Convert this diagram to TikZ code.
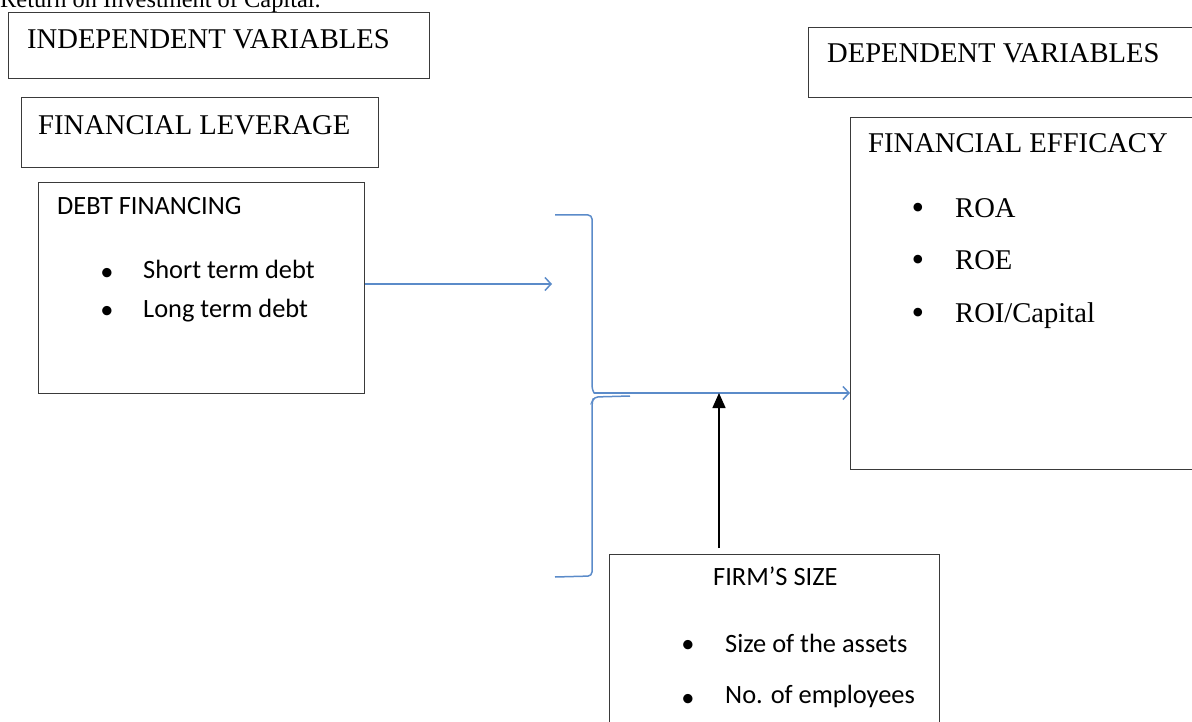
\documentclass[tikz,border=0pt]{standalone}
\usepackage{fontspec}
\setmainfont{Liberation Serif}
\newfontfamily\calibri{Carlito}
\usetikzlibrary{arrows.meta,calc}
\definecolor{boxgray}{HTML}{3A3A3A}
\definecolor{wordblue}{HTML}{5B8BC9}
\begin{document}
\begin{tikzpicture}[x=1pt,y=-1pt,
  box/.style={draw=boxgray, line width=1.2pt, inner sep=0pt, anchor=north west},
  sertext/.style={anchor=base west, inner sep=0pt, font=\fontsize{28.6}{34}\selectfont},
  serbullet/.style={anchor=base, inner sep=0pt, font=\fontsize{36}{40}\selectfont},
  santext/.style={anchor=base west, inner sep=0pt, font=\calibri\fontsize{26.4}{31}\selectfont},
  sanbullet/.style={anchor=base, inner sep=0pt, font=\calibri\fontsize{26.4}{31}\selectfont},
  blueline/.style={draw=wordblue, line width=1.5pt},
  bluearrow/.style={blueline, -{Straight Barb[length=6pt,width=13pt,line width=1.5pt]}},
  blackarrow/.style={draw=black, line width=1.5pt, -{Triangle[length=15pt,width=13pt]}}
]
\useasboundingbox (0,0) rectangle (1192,722);
\clip (0,0) rectangle (1192,722);

% cut-off caption line
\node[anchor=base west, inner sep=0pt, font=\fontsize{24.4}{29}\selectfont] (cap) at (0,8) {Return on Investment of Capital.};

% boxes
\node[box, minimum width=421pt, minimum height=66pt] (indep) at (8,12) {};
\node[box, minimum width=357pt, minimum height=70pt] (lev) at (21,97) {};
\node[box, minimum width=326pt, minimum height=211pt] (debt) at (38,182) {};
\node[box, minimum width=420pt, minimum height=70pt] (dep) at (808,27) {};
\node[box, minimum width=400pt, minimum height=352pt] (effic) at (850,117) {};
\node[box, minimum width=330pt, minimum height=200pt] (firm) at (609,554) {};

% texts
\node[sertext] (tindep) at (27,49) {INDEPENDENT VARIABLES};
\node[sertext] (tlev) at (38,135) {FINANCIAL LEVERAGE};
\node[sertext] (tdep) at (827,63) {DEPENDENT VARIABLES};
\node[sertext] (teff) at (868,153) {FINANCIAL EFFICACY};
\node[serbullet] (b1) at (918,220) {\textbullet};
\node[sertext] (roa) at (955,218) {ROA};
\node[serbullet] (b2) at (918,272) {\textbullet};
\node[sertext] (roe) at (955,270) {ROE};
\node[serbullet] (b3) at (918,324) {\textbullet};
\node[sertext] (roi) at (955,322) {ROI/Capital};

\node[santext] (tdebt) at (57,215) {DEBT FINANCING};
\node[sanbullet] (d1) at (107,280) {\textbullet};
\node[santext] (std) at (143,279) {Short term debt};
\node[sanbullet] (d2) at (107,318) {\textbullet};
\node[santext] (ltd) at (143,317) {Long term debt};

\node[santext] (tfirm) at (713,585) {FIRM’S SIZE};
\node[sanbullet] (f1) at (688,652) {\textbullet};
\node[santext] (sa) at (725,652) {Size of the assets};
\node[sanbullet] (f2) at (688,706) {\textbullet};
\node[santext] (ne) at (725,703) {No. of employees};

% brace
\coordinate (btop) at (555,215);
\coordinate (tip) at (594,393);
\coordinate (bbot) at (555,577);
\draw[blueline, rounded corners=4pt] (btop) -- (592,215) -- (592,390) -- (tip);
\draw[blueline, rounded corners=4pt] (630,396) -- (594,397) -- (592,402) -- (592,576) -- (bbot);

% connectors
\draw[bluearrow] (debt.east |- 0,284) -- (552,284);
\draw[bluearrow] (tip) -- (tip -| effic.west);
\coordinate (fsrc) at ($(firm.north west)+(110,-6)$);
\draw[blackarrow] (fsrc) -- (fsrc |- tip);
\end{tikzpicture}
\end{document}
